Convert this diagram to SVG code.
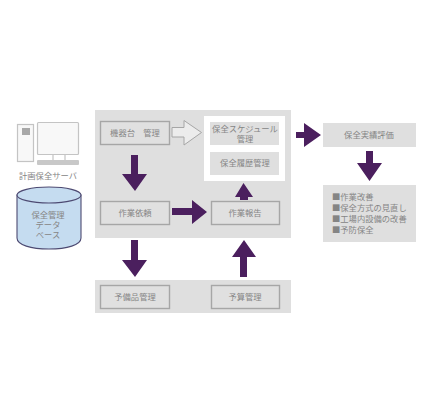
<svg xmlns="http://www.w3.org/2000/svg" width="428" height="420" viewBox="0 0 428 420">
<style>
.t{font-family:"Noto Sans CJK JP","Noto Sans",sans-serif;font-size:8.300px;fill:#858585;text-anchor:middle}
.l{text-anchor:start}
.bg{fill:#dfdfdf}
.b{fill:#e0e0e0;stroke:#a6a6a6;stroke-width:1.4}
.a{fill:#4b1f5e}
.ic{fill:#f8f8f8;stroke:#c4c4c4;stroke-width:1.2}
</style>
<rect width="428" height="420" fill="#fff"/>
<rect class="bg" x="95" y="110" width="196" height="128"/>
<rect class="bg" x="95" y="280" width="196" height="33"/>
<rect x="204" y="116" width="81" height="65" fill="#fff"/>
<g id="connectors">
<path d="M172 127.500H184V120.500L201.500 132.500L184 145V137H172Z" fill="#ececec" stroke="#a6a6a6" stroke-width="1"/>
<path class="a" d="M131 155H138V174H147L135 191L122 174H131Z"/>
<path class="a" d="M172 208H192V200L207 212L192 224V215H172Z"/>
<path class="a" d="M131 240H138V260H147L135 277L122 260H131Z"/>
<path class="a" d="M240 200V197H235L243.500 183L253 197H248V200Z"/>
<path class="a" d="M240 277V257H232L244 240L256 257H247V277Z"/>
<path class="a" d="M296 132H304V123L321 135L304 147V138H296Z"/>
<path class="a" d="M366 151H373V163H382L369.500 181L357 163H366Z"/>
</g>
<g id="server">
<rect class="ic" x="17.500" y="124.500" width="16" height="37"/>
<rect x="22" y="128" width="8" height="7" fill="#a8a8a8"/>
<rect class="ic" x="37.500" y="122.500" width="41" height="32" rx="1"/>
<path d="M53 155V160M65 155V160" stroke="#c4c4c4" stroke-width="1.200" fill="none"/>
<rect x="37" y="160" width="42" height="5" rx="1" fill="#c8c8c8"/>
<text class="t" x="48" y="179">計画保全サーバ</text>
</g>
<g id="db">
<path d="M17 195V238C17 245 31 249 49 249S81 245 81 238V195Z" fill="#c5dcf0" stroke="#4d4a72" stroke-width="1.100"/>
<ellipse cx="49" cy="195" rx="32" ry="8" fill="#c5dcf0" stroke="#4d4a72" stroke-width="1.100"/>
<text class="t" x="48" y="218">保全管理</text>
<text class="t" x="48" y="228">データ</text>
<text class="t" x="48" y="238">ベース</text>
</g>
<g id="n1"><rect class="b" x="100.500" y="121.500" width="69" height="23"/><text class="t" x="135" y="136">機器台　管理</text></g>
<g id="n2"><rect class="b" x="100.500" y="201.500" width="69" height="23"/><text class="t" x="135" y="216">作業依頼</text></g>
<g id="n3"><rect class="b" x="211.500" y="201.500" width="68" height="23"/><text class="t" x="245" y="216">作業報告</text></g>
<g id="n4"><rect class="b" x="100.500" y="285.500" width="69" height="23"/><text class="t" x="135" y="300">予備品管理</text></g>
<g id="n5"><rect class="b" x="211.500" y="285.500" width="68" height="23"/><text class="t" x="245" y="300">予算管理</text></g>
<g id="n6"><rect class="bg" x="210" y="122" width="69" height="23"/><text class="t" x="245" y="132">保全スケジュール</text><text class="t" x="245" y="142">管理</text></g>
<g id="n7"><rect class="bg" x="210" y="152" width="69" height="23"/><text class="t" x="245" y="166">保全履歴管理</text></g>
<g id="n8"><rect class="bg" x="323" y="123" width="93" height="24"/><text class="t" x="369" y="138">保全実績評価</text></g>
<g id="n9"><rect class="bg" x="323" y="185" width="93" height="57"/>
<text class="t l" x="332" y="200">■作業改善</text>
<text class="t l" x="332" y="211">■保全方式の見直し</text>
<text class="t l" x="332" y="222">■工場内設備の改善</text>
<text class="t l" x="332" y="233">■予防保全</text></g>
</svg>
